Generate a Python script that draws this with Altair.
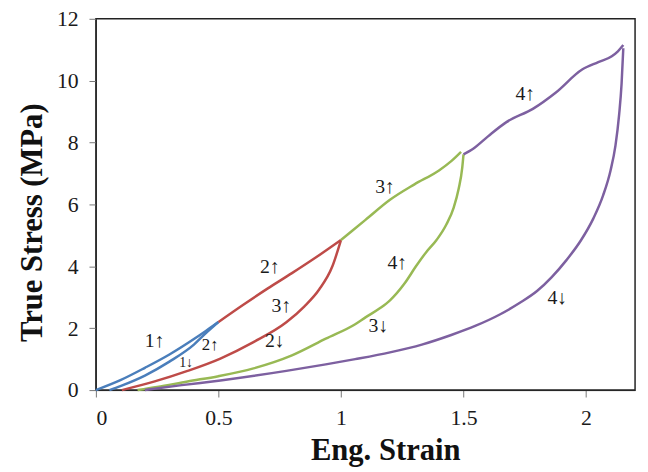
import altair as alt
import pandas as pd

# ---- data ----
# cycle 1 (blue): loading then unloading
c1_up_x = [0.0, 0.1, 0.2, 0.3, 0.4, 0.45, 0.5]
c1_up_y = [0.0, 0.32, 0.72, 1.15, 1.65, 1.92, 2.2]
c1_dn_x = [0.5, 0.45, 0.4, 0.3, 0.2, 0.1, 0.055]
c1_dn_y = [2.2, 1.85, 1.47, 0.92, 0.47, 0.13, 0.0]
# cycle 2 (red)
c2_up_x = [0.5, 0.6, 0.7, 0.8, 0.9, 1.0]
c2_up_y = [2.2, 2.75, 3.28, 3.78, 4.3, 4.85]
c2_dn_x = [1.0, 0.965, 0.911, 0.85, 0.777, 0.643, 0.508, 0.374, 0.24, 0.106]
c2_dn_y = [4.85, 4.0, 3.25, 2.7, 2.19, 1.55, 1.02, 0.62, 0.28, 0.0]
# cycle 3 (green)
c3_up_x = [1.0, 1.1, 1.2, 1.3, 1.4, 1.45, 1.49]
c3_up_y = [4.85, 5.5, 6.15, 6.65, 7.1, 7.4, 7.7]
c3_dn_x = [1.5, 1.495, 1.48, 1.46, 1.43, 1.39, 1.347, 1.306, 1.26, 1.2, 1.16, 1.1, 1.058, 0.938, 0.8, 0.643, 0.5, 0.374, 0.25, 0.17]
c3_dn_y = [7.62, 7.2, 6.5, 5.9, 5.35, 4.85, 4.45, 4.0, 3.45, 2.9, 2.65, 2.35, 2.13, 1.66, 1.12, 0.7, 0.45, 0.28, 0.1, 0.0]
# cycle 4 (purple)
c4_up_x = [1.5, 1.541, 1.6, 1.675, 1.783, 1.877, 1.984, 2.05, 2.105, 2.13, 2.152]
c4_up_y = [7.62, 7.81, 8.2, 8.66, 9.09, 9.62, 10.36, 10.6, 10.79, 10.95, 11.15]
c4_dn_x = [2.152, 2.145, 2.135, 2.12, 2.1, 2.07, 2.03, 1.98, 1.92, 1.86, 1.8, 1.73, 1.65, 1.55, 1.45, 1.33, 1.2, 1.058, 0.938, 0.777, 0.508, 0.35, 0.2]
c4_dn_y = [11.05, 9.9, 8.9, 7.9, 7.1, 6.3, 5.55, 4.85, 4.2, 3.65, 3.2, 2.82, 2.45, 2.08, 1.78, 1.47, 1.22, 1.0, 0.83, 0.62, 0.31, 0.16, 0.0]

cycles = ["1", "2", "3", "4"]
colors = ["#4A7EBB", "#BE4B48", "#98B954", "#7D60A0"]

label_text = ["1↑", "2↑", "1↓", "2↑", "3↑", "2↓", "3↑", "4↑", "3↓", "4↑", "4↓"]
label_x = [0.24, 0.466, 0.368, 0.71, 0.757, 0.73, 1.18, 1.23, 1.153, 1.752, 1.883]
label_y = [1.6, 1.44, 0.86, 3.99, 2.7, 1.6, 6.56, 4.1, 2.08, 9.56, 2.98]
label_size = [20, 17, 14, 20, 20, 20, 20, 20, 20, 20, 20]

# ---- build table ----
segments = [
    ("1", "1u", c1_up_x, c1_up_y), ("1", "1d", c1_dn_x, c1_dn_y),
    ("2", "2u", c2_up_x, c2_up_y), ("2", "2d", c2_dn_x, c2_dn_y),
    ("3", "3u", c3_up_x, c3_up_y), ("3", "3d", c3_dn_x, c3_dn_y),
    ("4", "4u", c4_up_x, c4_up_y), ("4", "4d", c4_dn_x, c4_dn_y),
]
rows = []
for cyc, seg, xs, ys in segments:
    for i, (x, y) in enumerate(zip(xs, ys)):
        rows.append({"cycle": cyc, "seg": seg, "idx": i, "x": x, "y": y})
df = pd.DataFrame(rows)
lab = pd.DataFrame({"t": label_text, "x": label_x, "y": label_y, "s": label_size})

FONT = "Liberation Serif, Times New Roman, serif"

xscale = alt.Scale(domain=[0, 2.2], nice=False, zero=False)
yscale = alt.Scale(domain=[0, 12], nice=False)

lines = alt.Chart(df).mark_line(strokeWidth=2.5, interpolate="monotone").encode(
    x=alt.X("x:Q", scale=xscale,
            axis=alt.Axis(title="Eng. Strain", values=[0, 0.5, 1, 1.5, 2], format="~g",
                          labelFont=FONT, titleFont=FONT, titleX=293)),
    y=alt.Y("y:Q", scale=yscale,
            axis=alt.Axis(title="True Stress (MPa)", values=[0, 2, 4, 6, 8, 10, 12],
                          labelFont=FONT, titleFont=FONT, titleY=206)),
    color=alt.Color("cycle:N", scale=alt.Scale(domain=cycles, range=colors), legend=None),
    detail="seg:N",
    order="idx:Q",
)

texts = alt.Chart(lab).mark_text(font=FONT, color="#1a1a1a", align="center", baseline="middle").encode(
    x="x:Q", y="y:Q", text="t:N", size=alt.Size("s:Q", scale=None, legend=None)
)

chart = (lines + texts).properties(
    width=546, height=376,
    autosize=alt.AutoSizeParams(type="none"),
    padding={"left": 89, "top": 8, "right": 5, "bottom": 78},
).configure_view(
    stroke="#222222", strokeWidth=1.5
).configure_axis(
    grid=False,
    labelFont=FONT, labelFontSize=22, labelColor="#1a1a1a",
    titleFont=FONT, titleFontSize=31, titleFontWeight="bold", titleColor="#111111",
    domainColor="#222222", tickColor="#777777", tickSize=7,
).configure_axisY(titlePadding=8, labelPadding=11).configure_axisX(titlePadding=7, labelPadding=11)

chart.save("out.html", embed_options={"renderer": "svg", "actions": False})
